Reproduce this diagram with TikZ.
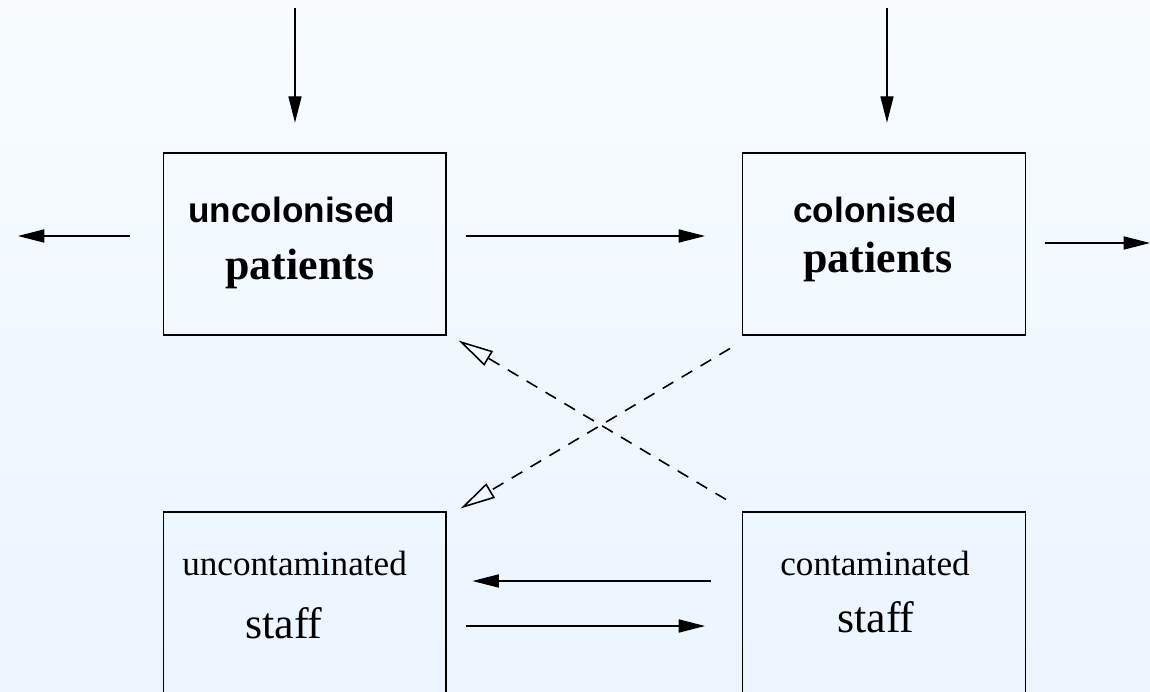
\documentclass[tikz,border=0pt]{standalone}
\usepackage{fontspec}
\setmainfont{Liberation Serif}
\setsansfont{Liberation Sans}
\usepackage{tikz}
\usetikzlibrary{arrows.meta,calc,positioning}

\definecolor{bgtop}{HTML}{F8FCFF}
\definecolor{bgbot}{HTML}{EAF5FF}

\tikzset{
  box/.style={draw,line width=0.6pt,minimum width=5.66cm,minimum height=3.64cm,inner sep=0pt},
  flow/.style={line width=0.6pt,-{Triangle[length=15pt,width=7.5pt]}},
  infect/.style={line width=0.9pt,dash pattern=on 7pt off 5.5pt,
    -{Triangle[open,length=20pt,width=9.5pt]}},
  headsans/.style={anchor=base west,inner sep=0pt,font=\fontsize{20}{22}\sffamily\bfseries},
  headserif/.style={anchor=base west,inner sep=0pt,font=\fontsize{25}{27}\rmfamily\bfseries},
  staffsmall/.style={anchor=base west,inner sep=0pt,font=\fontsize{20}{22}\rmfamily},
  staffbig/.style={anchor=base west,inner sep=0pt,font=\fontsize{25}{27}\rmfamily}
}

\begin{document}
\begin{tikzpicture}[x=0.02cm,y=-0.02cm]
  \shade[top color=bgtop,bottom color=bgbot] (0,0) rectangle (1150,692);
  \useasboundingbox (0,0) rectangle (1150,692);

  % patient and staff compartments
  \node[box] (uncol) at (304.5,244) {};
  \node[box] (col) at (884,244) {};
  \node[box] (uncont) at (304.5,603) {};
  \node[box] (cont) at (884,603) {};

  \node[headsans] (uncolA) at (188,223) {uncolonised};
  \node[headserif] (uncolB) at (225,280) {patients};
  \node[headsans] (colA) at (793,223) {colonised};
  \node[headserif] (colB) at (803,273) {patients};
  \node[staffsmall] (uncontA) at (182,575) {uncontaminated};
  \node[staffbig] (uncontB) at (245,638) {staff};
  \node[staffsmall] (contA) at (780,575) {contaminated};
  \node[staffbig] (contB) at (837,632) {staff};

  % admissions and discharges
  \coordinate (admitU) at (295,8);
  \coordinate (admitC) at (887,8);
  \coordinate (dischU) at (18,236);
  \coordinate (dischC) at (1150,243);
  \draw[flow,shorten >=17pt] (admitU) -- (admitU |- uncol.north);
  \draw[flow,shorten >=17pt] (admitC) -- (admitC |- col.north);
  \draw[flow,shorten <=18.7pt] (dischU -| uncol.west) -- (dischU);
  \draw[flow,shorten <=10.8pt] (dischC -| col.east) -- (dischC);

  % colonisation and decontamination
  \draw[flow] ($(uncol.east)+(19,-8)$) -- ($(col.west)+(-37,-8)$);
  \draw[flow] ($(cont.west)+(-31,-22)$) -- ($(uncont.east)+(26,-22)$);
  \draw[flow] ($(uncont.east)+(19,23)$) -- ($(cont.west)+(-37,23)$);

  % transmission
  \draw[infect] ($(col.south west)+(-12,13)$) -- ($(uncont.north east)+(14,-3)$);
  \draw[infect] ($(cont.north west)+(-16,-12)$) -- ($(uncol.south east)+(12,5)$);
\end{tikzpicture}
\end{document}
